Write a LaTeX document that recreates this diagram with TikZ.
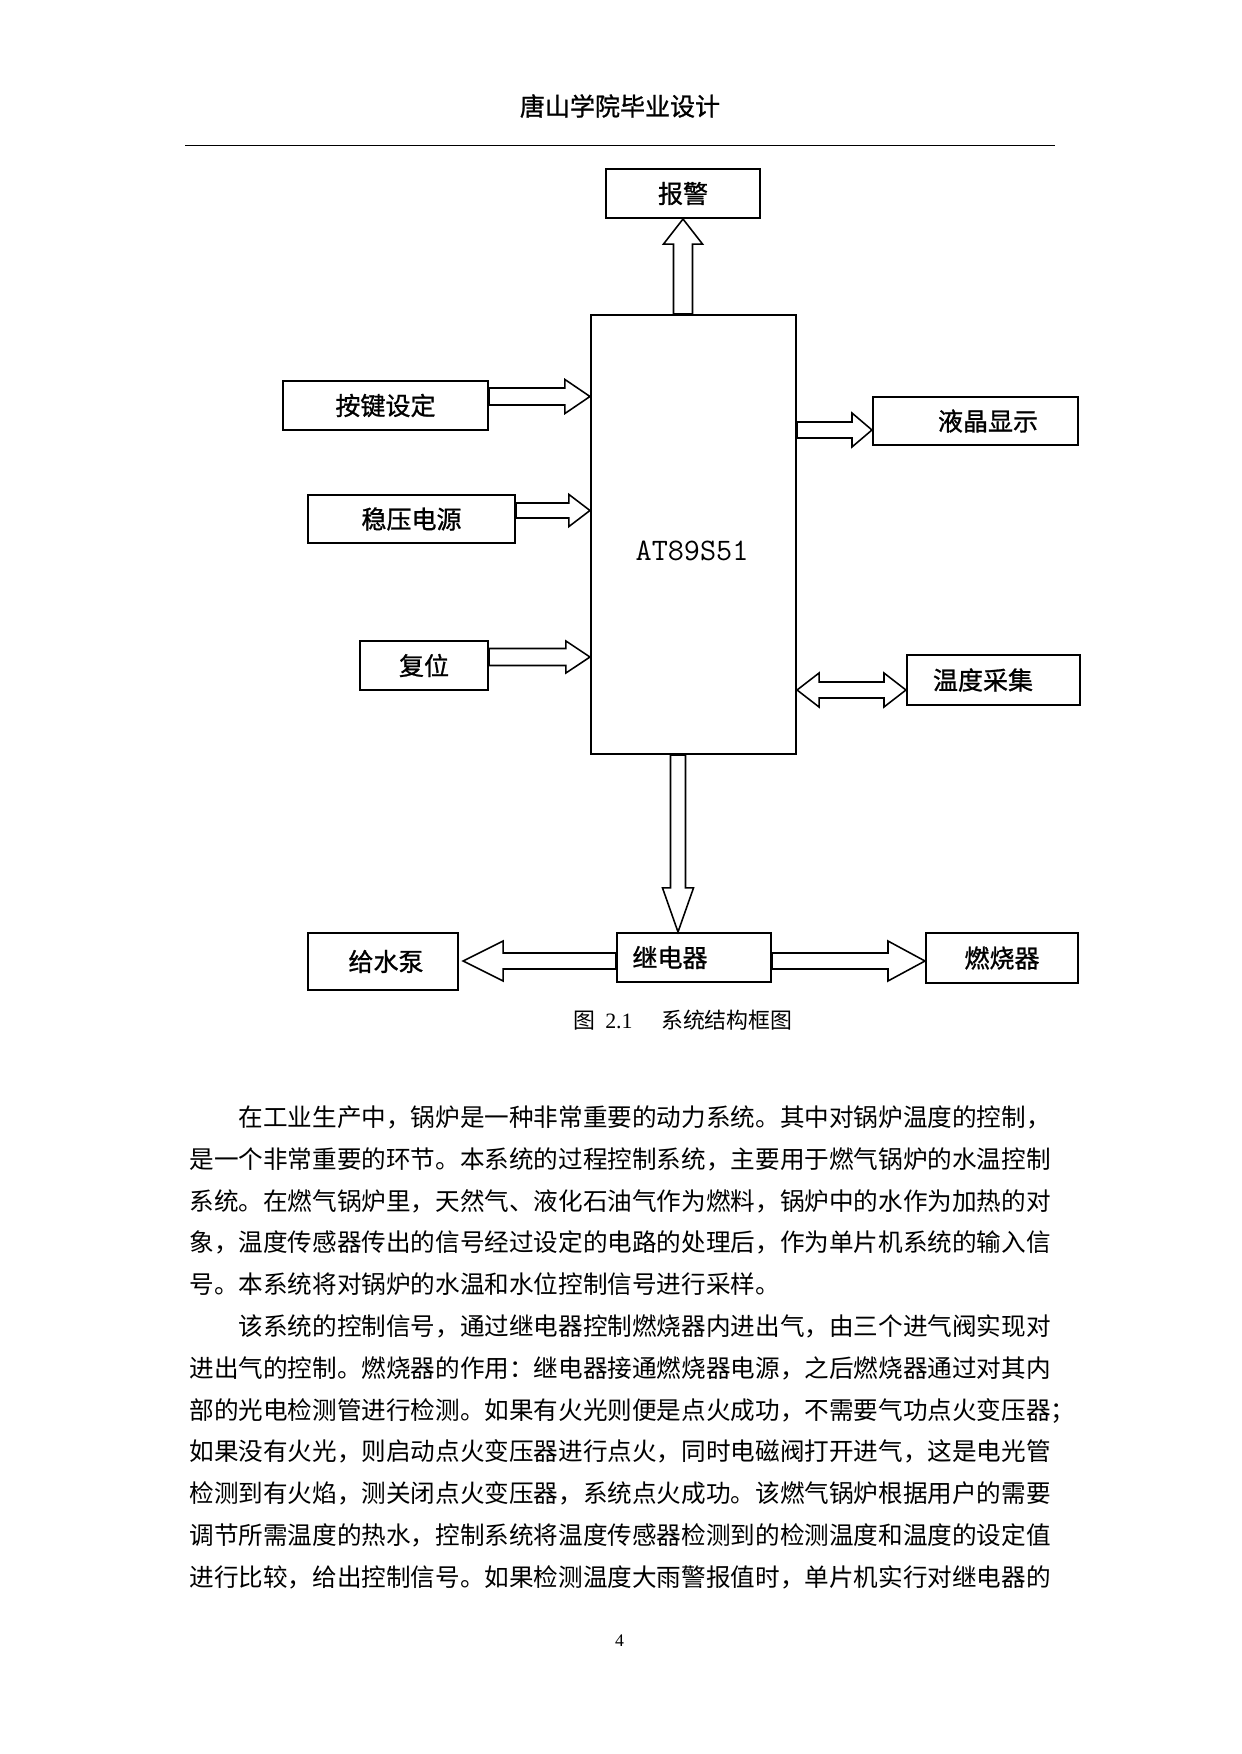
\documentclass[tikz,border=0pt]{standalone}
\usepackage{fontspec}
\setmainfont{Liberation Serif}
\newfontfamily\cjk{Noto Sans CJK SC}
\newfontfamily\cjkb{Noto Sans CJK SC}[FakeBold=1]
\usetikzlibrary{calc}
\newdimen\px \px=0.4795pt
\XeTeXlinebreaklocale "zh"
\XeTeXlinebreakskip=0pt plus 2pt
\newcommand\blkarrow[5]{%
  \coordinate (ba-a) at (#1);
  \coordinate (ba-b) at (#2);
  \coordinate (ba-h) at ($(ba-b)!#5!(ba-a)$);
  \draw[blk] ($(ba-a)!#3!90:(ba-b)$) -- ($(ba-h)!#3!90:(ba-b)$) -- ($(ba-h)!#4!90:(ba-b)$) -- (ba-b)
    -- ($(ba-h)!#4!-90:(ba-b)$) -- ($(ba-h)!#3!-90:(ba-b)$) -- ($(ba-a)!#3!-90:(ba-b)$) -- cycle;}
\newcommand\dblarrow[5]{%
  \coordinate (da-a) at (#1);
  \coordinate (da-b) at (#2);
  \coordinate (da-h1) at ($(da-a)!#5!(da-b)$);
  \coordinate (da-h2) at ($(da-b)!#5!(da-a)$);
  \draw[blk] (da-a) -- ($(da-h1)!#4!90:(da-b)$) -- ($(da-h1)!#3!90:(da-b)$) -- ($(da-h2)!#3!90:(da-b)$)
    -- ($(da-h2)!#4!90:(da-b)$) -- (da-b) -- ($(da-h2)!#4!-90:(da-b)$) -- ($(da-h2)!#3!-90:(da-b)$)
    -- ($(da-h1)!#3!-90:(da-b)$) -- ($(da-h1)!#4!-90:(da-b)$) -- cycle;}
\tikzset{
  box/.style={draw, line width=1pt, inner sep=0pt, font=\cjkb\fontsize{12}{14}\selectfont},
  blk/.style={draw, line width=0.75pt, line join=miter, fill=white},
  body/.style={anchor=base west, inner sep=0pt, font=\cjk\fontsize{11.8}{14}\selectfont},
}
\begin{document}
\begin{tikzpicture}[x=0.4795pt, y=-0.4795pt]
\useasboundingbox[fill=white] (0,0) rectangle (1241,1754);
% header
\node[font=\cjkb\fontsize{12}{14}\selectfont, inner sep=0pt] (hdr) at (620,106) {唐山学院毕业设计};
\draw[line width=0.5pt] (185,145.5) -- (1055,145.5);
% boxes
\node[box, minimum width=154\px, minimum height=49\px] (bj) at (683,193.5) {报警};
\node[box, minimum width=205\px, minimum height=439\px] (mcu) at (693.5,534.5) {};
\node[font=\ttfamily\fontsize{15}{17}\selectfont\addfontfeatures{FakeBold=1.2}, inner sep=0pt] (mcut) at (692,551) {AT89S51};
\node[box, minimum width=205\px, minimum height=49\px] (kb) at (385.5,405.5) {按键设定};
\node[box, minimum width=207\px, minimum height=48\px] (ps) at (411.5,519) {稳压电源};
\node[box, minimum width=128\px, minimum height=49\px] (rs) at (424,665.5) {复位};
\node[box, minimum width=205\px, minimum height=48\px] (lcd) at (975.5,421) {\hspace*{25\px}液晶显示};
\node[box, minimum width=173\px, minimum height=50\px] (tc) at (993.5,680) {温度采集\hspace*{21\px}};
\node[box, minimum width=150\px, minimum height=57\px] (wp) at (383,961.5) {\hspace*{6\px}给水泵};
\node[box, minimum width=154\px, minimum height=49\px] (rl) at (694,957.5) {继电器\hspace*{48\px}};
\node[box, minimum width=152\px, minimum height=50\px] (bn) at (1002,958) {燃烧器};
% arrows
\blkarrow{mcu.north -| bj.south}{bj.south}{4.56pt}{9.35pt}{11.99pt}
\blkarrow{kb.east |- 0,396.5}{mcu.west |- 0,396.5}{4.08pt}{8.15pt}{11.99pt}
\blkarrow{ps.east |- 0,510.5}{mcu.west |- 0,510.5}{3.60pt}{7.67pt}{10.07pt}
\blkarrow{rs.east |- 0,657}{mcu.west |- 0,657}{4.08pt}{7.67pt}{11.51pt}
\blkarrow{mcu.east |- 0,430}{lcd.west |- 0,430}{3.84pt}{8.15pt}{9.59pt}
\dblarrow{mcu.east |- 0,690}{tc.west |- 0,690}{3.84pt}{8.15pt}{10.55pt}
\blkarrow{678,0 |- mcu.south}{678,0 |- rl.north}{3.60pt}{7.43pt}{21.10pt}
\blkarrow{rl.west |- 0,961}{$(wp.east |- 0,961)+(4,0)$}{3.84pt}{9.59pt}{19.18pt}
\blkarrow{rl.east |- 0,961}{bn.west |- 0,961}{3.84pt}{9.59pt}{17.74pt}
% caption
\node[font=\fontsize{10.5}{12}\selectfont, inner sep=0pt] (cap) at (683,1020) {{\cjk 图}\hspace{0.45em}2.1\hspace{1.3em}{\cjk 系统结构框图}};
% body text
\node[body] (l1) at (189,1126.3) {\makebox[863\px][s]{\hspace*{2em}在工业生产中，锅炉是一种非常重要的动力系统。其中对锅炉温度的控制，}};
\node[body] (l2) at (189,1168.1) {\makebox[863\px][s]{是一个非常重要的环节。本系统的过程控制系统，主要用于燃气锅炉的水温控制}};
\node[body] (l3) at (189,1210.0) {\makebox[863\px][s]{系统。在燃气锅炉里，天然气、液化石油气作为燃料，锅炉中的水作为加热的对}};
\node[body] (l4) at (189,1251.8) {\makebox[863\px][s]{象，温度传感器传出的信号经过设定的电路的处理后，作为单片机系统的输入信}};
\node[body] (l5) at (189,1293.6) {号。本系统将对锅炉的水温和水位控制信号进行采样。};
\node[body] (l6) at (189,1335.4) {\makebox[863\px][s]{\hspace*{2em}该系统的控制信号，通过继电器控制燃烧器内进出气，由三个进气阀实现对}};
\node[body] (l7) at (189,1377.2) {\makebox[863\px][s]{进出气的控制。燃烧器的作用：继电器接通燃烧器电源，之后燃烧器通过对其内}};
\node[body] (l8) at (189,1419.0) {\makebox[863\px][s]{部的光电检测管进行检测。如果有火光则便是点火成功，不需要气功点火变压器；}};
\node[body] (l9) at (189,1460.9) {\makebox[863\px][s]{如果没有火光，则启动点火变压器进行点火，同时电磁阀打开进气，这是电光管}};
\node[body] (l10) at (189,1502.7) {\makebox[863\px][s]{检测到有火焰，测关闭点火变压器，系统点火成功。该燃气锅炉根据用户的需要}};
\node[body] (l11) at (189,1544.5) {\makebox[863\px][s]{调节所需温度的热水，控制系统将温度传感器检测到的检测温度和温度的设定值}};
\node[body] (l12) at (189,1586.3) {\makebox[863\px][s]{进行比较，给出控制信号。如果检测温度大雨警报值时，单片机实行对继电器的}};
% page number
\node[font=\fontsize{8.5}{10}\selectfont, inner sep=0pt] (pg) at (619.5,1641) {4};
\end{tikzpicture}
\end{document}
